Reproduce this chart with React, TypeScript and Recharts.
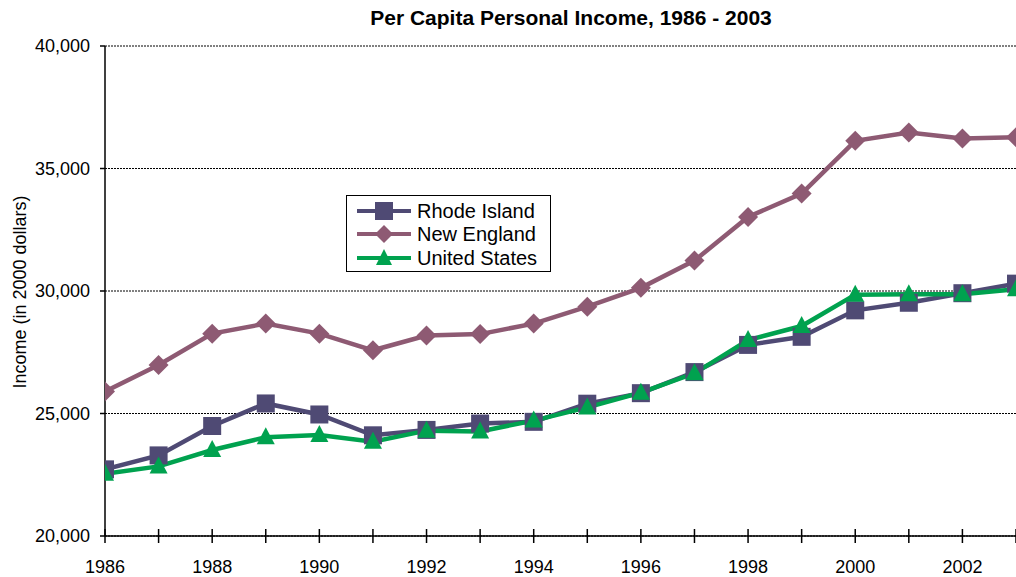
import React from "react";
import {LineChart, Line, XAxis, YAxis, CartesianGrid} from "recharts";

// Per capita personal income, constant 2000 dollars
const years = [1986, 1987, 1988, 1989, 1990, 1991, 1992, 1993, 1994, 1995, 1996, 1997, 1998, 1999, 2000, 2001, 2002, 2003];
const rhodeIsland = [22720, 23290, 24490, 25410, 24960, 24110, 24330, 24590, 24660, 25400, 25830, 26690, 27800, 28130, 29210, 29520, 29910, 30300];
const newEngland = [25900, 26980, 28260, 28670, 28260, 27580, 28180, 28240, 28670, 29360, 30130, 31240, 33020, 33980, 36130, 36470, 36220, 36280];
const unitedStates = [22540, 22840, 23510, 24030, 24120, 23850, 24300, 24270, 24710, 25250, 25850, 26640, 28000, 28570, 29850, 29870, 29870, 30070];

const yTicks = [20000, 25000, 30000, 35000, 40000];
const xLabelYears = [1986, 1988, 1990, 1992, 1994, 1996, 1998, 2000, 2002];

const RI_COLOR = "#4F4A74";
const NE_COLOR = "#8E5A73";
const US_COLOR = "#00A24F";
const FONT = "Arial, 'Liberation Sans', sans-serif";

const data = years.map((year, i) => ({
    year,
    ri: rhodeIsland[i],
    ne: newEngland[i],
    us: unitedStates[i],
}));

const SquareDot = (props: any) => {
    const {cx, cy, index} = props;
    if (cx == null || cy == null) return <g key={`sq-${index}`}/>;
    return <rect key={`sq-${index}`} x={cx - 9} y={cy - 9} width={18} height={18} fill={RI_COLOR}/>;
};

const DiamondDot = (props: any) => {
    const {cx, cy, index} = props;
    if (cx == null || cy == null) return <g key={`dm-${index}`}/>;
    return <polygon key={`dm-${index}`} points={`${cx},${cy - 10} ${cx + 10},${cy} ${cx},${cy + 10} ${cx - 10},${cy}`} fill={NE_COLOR}/>;
};

const TriangleDot = (props: any) => {
    const {cx, cy, index} = props;
    if (cx == null || cy == null) return <g key={`tr-${index}`}/>;
    return <polygon key={`tr-${index}`} points={`${cx},${cy - 10} ${cx + 9},${cy + 7} ${cx - 9},${cy + 7}`} fill={US_COLOR}/>;
};

// tick marks cross the x axis; labels only on even years
const YearTick = (props: any) => {
    const {x, y, payload} = props;
    return (
        <g>
            <line x1={x} x2={x} y1={y - 7} y2={y + 7} stroke="#000" strokeWidth={1.5}/>
            {xLabelYears.includes(payload.value) && (
                <text x={x} y={y + 37} textAnchor="middle" fontSize={18} fontFamily={FONT} fill="#000">
                    {payload.value}
                </text>
            )}
        </g>
    );
};

const legendItems = [
    {name: "Rhode Island", color: RI_COLOR, shape: "square"},
    {name: "New England", color: NE_COLOR, shape: "diamond"},
    {name: "United States", color: US_COLOR, shape: "triangle"},
];

const LegendBox = () => (
    <div style={{
        position: "absolute",
        left: 346,
        top: 195,
        border: "1.5px solid #000",
        background: "#fff",
        width: 205,
        height: 77,
        boxSizing: "border-box",
        paddingTop: 3,
        fontFamily: FONT,
    }}>
        {legendItems.map((item) => (
            <div key={item.name} style={{display: "flex", alignItems: "center", height: 23.5}}>
                <svg width={68} height={22} style={{marginLeft: 8}}>
                    <line x1={2} x2={56} y1={11} y2={11} stroke={item.color} strokeWidth={4}/>
                    {item.shape === "square" && <rect x={20} y={2} width={18} height={18} fill={item.color}/>}
                    {item.shape === "diamond" && <polygon points="29,2 38,11 29,20 20,11" fill={item.color}/>}
                    {item.shape === "triangle" && <polygon points="29,2 37,18 21,18" fill={item.color}/>}
                </svg>
                <span style={{fontSize: 20, color: "#000", marginLeft: -6, lineHeight: "20px"}}>{item.name}</span>
            </div>
        ))}
    </div>
);

export default function App() {
    return (
        <div style={{position: "absolute", left: 0, top: 0, width: 1016, height: 577, background: "#fff"}}>
            <LineChart width={1016} height={577} data={data} margin={{top: 46, right: 0, bottom: 11, left: 0}}>
                <text x={571} y={25} textAnchor="middle" fontSize={21} fontWeight="bold" fontFamily={FONT} fill="#000">
                    Per Capita Personal Income, 1986 - 2003
                </text>
                <CartesianGrid vertical={false} stroke="#000" strokeWidth={1} strokeDasharray="2 1"/>
                <XAxis
                    dataKey="year"
                    type="number"
                    domain={[1986, 2003]}
                    ticks={years}
                    interval={0}
                    height={30}
                    tickLine={false}
                    tickSize={0}
                    tickMargin={0}
                    axisLine={{stroke: "#000", strokeWidth: 1.5}}
                    tick={<YearTick/>}
                    allowDataOverflow
                />
                <YAxis
                    width={105}
                    domain={[20000, 40000]}
                    ticks={yTicks}
                    interval={0}
                    tickSize={5}
                    tickMargin={10}
                    tickLine={{stroke: "#000", strokeWidth: 1.5}}
                    axisLine={{stroke: "#000", strokeWidth: 1.5}}
                    tick={{fontSize: 18, fontFamily: FONT, fill: "#000"}}
                    tickFormatter={(v: number) => v.toLocaleString("en-US")}
                    label={{
                        content: () => (
                            <text x={20} y={292} transform="rotate(-90 20 292)" textAnchor="middle"
                                  fontSize={18} fontFamily={FONT} fill="#000" dominantBaseline="central">
                                Income (in 2000 dollars)
                            </text>
                        ),
                    }}
                />
                <Line dataKey="ri" name="Rhode Island" stroke={RI_COLOR} strokeWidth={4.5}
                      dot={SquareDot} activeDot={false} isAnimationActive={false}/>
                <Line dataKey="ne" name="New England" stroke={NE_COLOR} strokeWidth={4.5}
                      dot={DiamondDot} activeDot={false} isAnimationActive={false}/>
                <Line dataKey="us" name="United States" stroke={US_COLOR} strokeWidth={4.5}
                      dot={TriangleDot} activeDot={false} isAnimationActive={false}/>
            </LineChart>
            <LegendBox/>
        </div>
    );
}
